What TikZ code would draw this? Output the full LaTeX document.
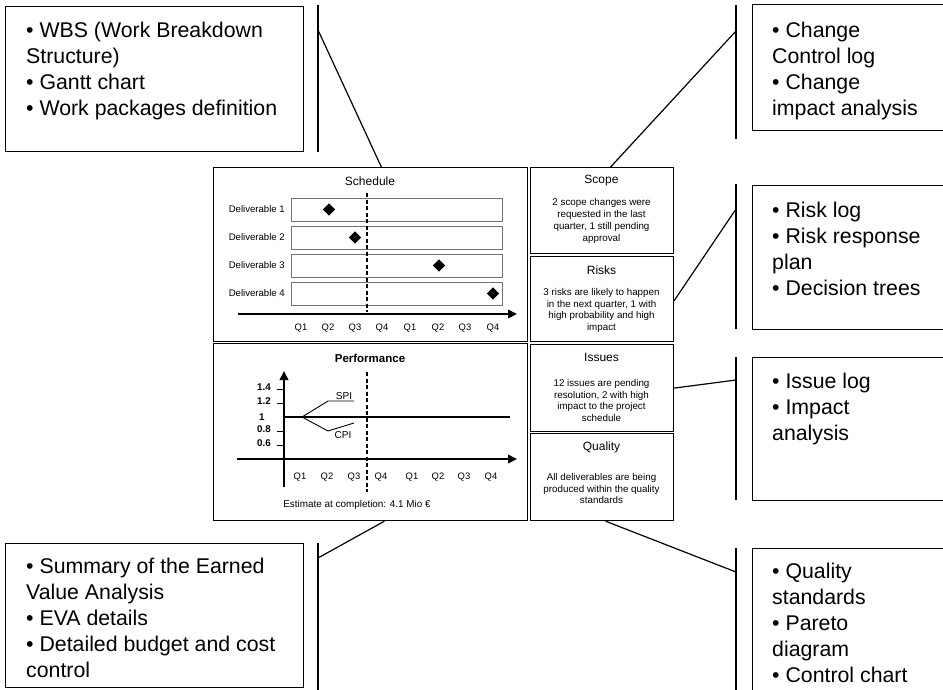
\documentclass[tikz,border=0pt]{standalone}
\usepackage{fontspec}
\setmainfont{Liberation Sans}
\usetikzlibrary{arrows.meta,shapes.geometric}

\begin{document}
\begin{tikzpicture}[x=1pt,y=-1pt,
  panel/.style={draw, line width=1.2pt, anchor=north west, inner sep=0pt},
  callout/.style={draw, line width=1.4pt, anchor=north west, inner sep=0pt},
  bracket/.style={line width=1.4pt},
  link/.style={line width=1.2pt},
  calltext/.style={anchor=north west, inner sep=0pt, align=left, font=\fontsize{21.3}{26}\selectfont},
  paneltitle/.style={inner sep=0pt, font=\fontsize{12}{14}\selectfont},
  body/.style={inner sep=0pt, align=center, font=\fontsize{9.8}{11.9}\selectfont},
  small/.style={inner sep=0pt, font=\fontsize{9.6}{11}\selectfont},
  tiny/.style={inner sep=0pt, font=\fontsize{9.4}{11}\selectfont},
  bar/.style={draw=black!55, line width=0.8pt, anchor=north west, inner sep=0pt, minimum width=211pt, minimum height=23pt},
  milestone/.style={diamond, fill=black, inner sep=0pt, minimum width=12.5pt, minimum height=12.5pt},
  axisline/.style={line width=2pt, -{Triangle[length=9pt,width=8.5pt]}},
  today/.style={line width=1.8pt, dash pattern=on 4pt off 2.5pt},
  index/.style={line width=0.9pt},
]
\useasboundingbox (0,0) rectangle (943,689);
\clip (0,0) rectangle (943,689);

% ---------- dashboard panels ----------
\node[panel, minimum width=314.5pt, minimum height=174pt] (sched) at (212.5,167) {};
\node[panel, minimum width=314.5pt, minimum height=177pt] (perf) at (212.5,343) {};
\node[panel, minimum width=143pt, minimum height=86pt] (scope) at (530,167) {};
\node[panel, minimum width=143pt, minimum height=85pt] (risks) at (530,256) {};
\node[panel, minimum width=143pt, minimum height=87pt] (issues) at (530,344) {};
\node[panel, minimum width=143pt, minimum height=87pt] (quality) at (530,433) {};

% ---------- schedule panel ----------
\node[paneltitle] (schedTitle) at (370,181) {Schedule};
\foreach \i/\y in {1/198,2/226,3/254,4/282}{
  \node[bar] (row\i) at (291,\y) {};
  \node[small, anchor=east] (lab\i) at (285,\y+11.5) {Deliverable \i};
}
\node[milestone] (m1) at (329,209.5) {};
\node[milestone] (m2) at (355,237.5) {};
\node[milestone] (m3) at (439,265.5) {};
\node[milestone] (m4) at (493,293.5) {};
\coordinate (sTodayT) at (367,193);
\coordinate (sTodayB) at (367,312);
\draw[today] (sTodayT) -- (sTodayB);
\coordinate (sAxisL) at (238,314);
\coordinate (sAxisR) at (517,314);
\draw[axisline] (sAxisL) -- (sAxisR);
\foreach \x/\q [count=\k] in {301/Q1,328/Q2,355/Q3,382/Q4,410/Q1,438/Q2,465/Q3,493/Q4}{
  \node[tiny] (sq\k) at (\x,328) {\q};
}

% ---------- performance panel ----------
\node[paneltitle, font=\fontsize{11.5}{14}\selectfont\bfseries] (perfTitle) at (370,358) {Performance};
\coordinate (pYb) at (284,487);
\coordinate (pYt) at (284,371);
\draw[axisline] (pYb) -- (pYt);
\coordinate (pXl) at (237,459);
\coordinate (pXr) at (517,459);
\draw[axisline] (pXl) -- (pXr);
\foreach \t/\v in {389/1.4,403/1.2,431/0.8,445/0.6}{
  \draw[line width=0.9pt] (277,\t) -- (284,\t);
  \node[tiny, font=\fontsize{9.8}{11}\selectfont\bfseries, anchor=base west] at (257,\t+1.5) {\v};
}
\node[tiny, font=\fontsize{9.8}{11}\selectfont\bfseries, anchor=base west] (one) at (259,420) {1};
\coordinate (baseL) at (285,417);
\coordinate (baseR) at (510,417);
\draw[line width=1.8pt] (baseL) -- (baseR);
\coordinate (idx0) at (302,417);
\coordinate (spi1) at (328,401);
\coordinate (spi2) at (354,401);
\coordinate (cpi1) at (328,431);
\coordinate (cpi2) at (354,423);
\draw[index] (idx0) -- (spi1) -- (spi2);
\draw[index] (idx0) -- (cpi1) -- (cpi2);
\node[small, font=\fontsize{10}{12}\selectfont] (spi) at (344,396) {SPI};
\node[small, font=\fontsize{10}{12}\selectfont] (cpi) at (343,435.5) {CPI};
\coordinate (pTodayT) at (367,372);
\coordinate (pTodayB) at (367,492);
\draw[today] (pTodayT) -- (pTodayB);
\foreach \x/\q [count=\k] in {300/Q1,327/Q2,354/Q3,381/Q4,412/Q1,438/Q2,464/Q3,491/Q4}{
  \node[tiny] (pq\k) at (\x,477) {\q};
}
\node[body, font=\fontsize{9.9}{12}\selectfont] (eac) at (357,505) {Estimate at completion: 4.1 Mio €};

% ---------- status panels ----------
\node[paneltitle] (scopeTitle) at (601.5,181) {Scope};
\node[body] (scopeText) at (601.5,221) {2 scope changes were\\requested in the last\\quarter, 1 still pending\\approval};
\node[paneltitle] (risksTitle) at (601.5,270) {Risks};
\node[body] (risksText) at (601.5,310.5) {3 risks are likely to happen\\in the next quarter, 1 with\\high probability and high\\impact};
\node[paneltitle] (issuesTitle) at (601.5,357) {Issues};
\node[body] (issuesText) at (601.5,400.5) {12 issues are pending\\resolution, 2 with high\\impact to the project\\schedule};
\node[paneltitle] (qualityTitle) at (601.5,447) {Quality};
\node[body] (qualityText) at (601.5,488.5) {All deliverables are being\\produced within the quality\\standards};

% ---------- callout boxes ----------
\node[callout, minimum width=298pt, minimum height=145pt] (cWBS) at (5,6) {};
\node[callout, minimum width=220pt, minimum height=126pt] (cChange) at (752,4) {};
\node[callout, minimum width=220pt, minimum height=144pt] (cRisk) at (752,185) {};
\node[callout, minimum width=220pt, minimum height=143pt] (cIssue) at (752,357) {};
\node[callout, minimum width=220pt, minimum height=160pt] (cQual) at (752,548) {};
\node[callout, minimum width=298pt, minimum height=144pt] (cEVA) at (5,543) {};

\node[calltext] (tWBS) at ([xshift=21pt,yshift=-12.8pt]cWBS.north west)
  {\strut• WBS (Work Breakdown\\Structure)\\• Gantt chart\\• Work packages definition};
\node[calltext] (tChange) at ([xshift=20pt,yshift=-14.8pt]cChange.north west)
  {\strut• Change\\Control log\\• Change\\impact analysis};
\node[calltext] (tRisk) at ([xshift=20pt,yshift=-13.8pt]cRisk.north west)
  {\strut• Risk log\\• Risk response\\plan\\• Decision trees};
\node[calltext] (tIssue) at ([xshift=20pt,yshift=-12.8pt]cIssue.north west)
  {\strut• Issue log\\• Impact\\analysis};
\node[calltext] (tQual) at ([xshift=20pt,yshift=-11.8pt]cQual.north west)
  {\strut• Quality\\standards\\• Pareto\\diagram\\• Control chart};
\node[calltext] (tEVA) at ([xshift=21pt,yshift=-11.8pt]cEVA.north west)
  {\strut• Summary of the Earned\\Value Analysis\\• EVA details\\• Detailed budget and cost\\control};

% ---------- brackets beside the callouts ----------
\coordinate (bWBSt) at (318,5);     \coordinate (bWBSb) at (318,152);
\coordinate (bChgt) at (736,5);     \coordinate (bChgb) at (736,139);
\coordinate (bRskt) at (736,184);   \coordinate (bRskb) at (736,329);
\coordinate (bIsst) at (736,357);   \coordinate (bIssb) at (736,500);
\coordinate (bQalt) at (736,548);   \coordinate (bQalb) at (736,692);
\coordinate (bEVAt) at (318,543);   \coordinate (bEVAb) at (318,692);
\foreach \b in {WBS,Chg,Rsk,Iss,Qal,EVA}{
  \draw[bracket] (b\b t) -- (b\b b);
}

% ---------- links from panels to brackets ----------
\coordinate (kWBS) at (318,30);
\coordinate (kChg) at (736,31);
\coordinate (kRsk) at (736,209);
\coordinate (kIss) at (736,380);
\coordinate (kQal) at (736,572);
\coordinate (kEVA) at (318,558);
\draw[link] ([xshift=11pt]sched.north) -- (kWBS);
\draw[link] ([xshift=8.5pt]scope.north) -- (kChg);
\draw[link] ([yshift=-1.5pt]risks.east) -- (kRsk);
\draw[link] (issues.east) -- (kIss);
\draw[link] ([xshift=3.5pt]quality.south) -- (kQal);
\draw[link] ([xshift=14pt]perf.south) -- (kEVA);
\end{tikzpicture}
\end{document}
